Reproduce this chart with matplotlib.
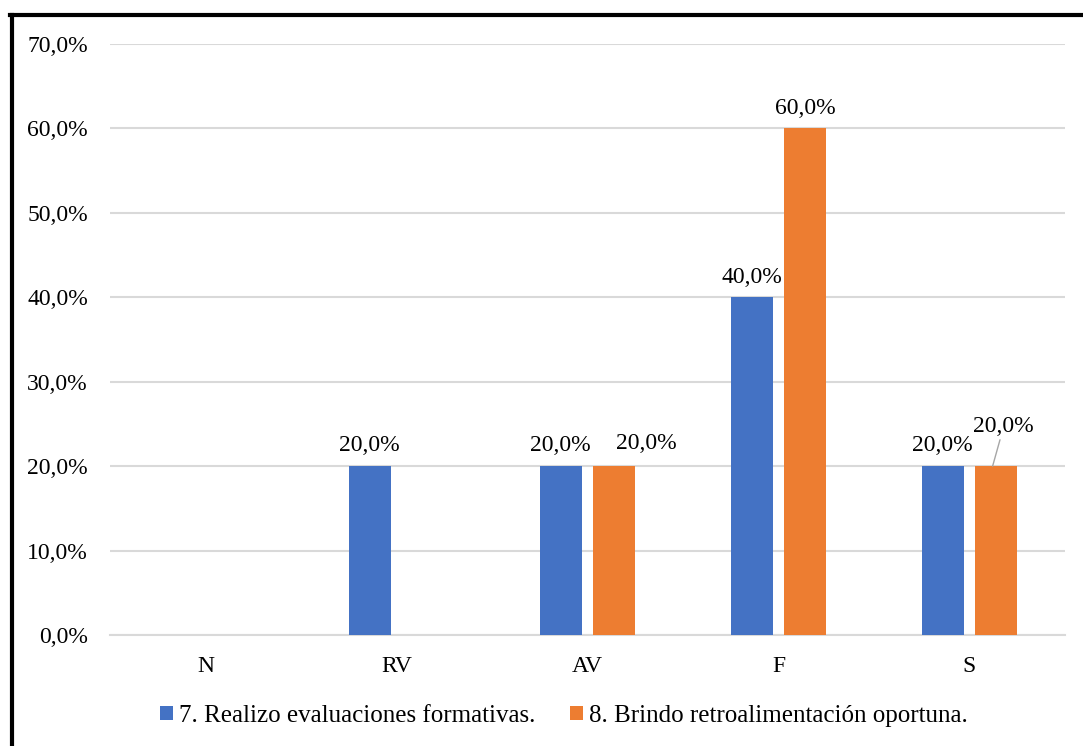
import numpy as np
import matplotlib
matplotlib.use("Agg")
import matplotlib.pyplot as plt
from matplotlib.lines import Line2D

categories = ["N", "RV", "AV", "F", "S"]
serie_7 = [0.0, 20.0, 20.0, 40.0, 20.0]
serie_8 = [0.0, 0.0, 20.0, 60.0, 20.0]
nombre_7 = "7. Realizo evaluaciones formativas."
nombre_8 = "8. Brindo retroalimentación oportuna."

plt.rcParams["font.family"] = ["Liberation Serif", "DejaVu Serif"]

fig = plt.figure(figsize=(10.83, 7.46), dpi=100)
ax = fig.add_axes([110 / 1083, 1 - 635 / 746, 955 / 1083, 591 / 746])

x = np.arange(len(categories))
ancho = 0.22
desp = 0.141
azul = "#4472C4"
naranja = "#ED7D31"
gris = "#D9D9D9"
tam = 17

b7 = ax.bar(x - desp, serie_7, ancho, color=azul, label=nombre_7, zorder=3)
b8 = ax.bar(x + desp, serie_8, ancho, color=naranja, label=nombre_8, zorder=3)

def etiqueta(v):
    return f"{v:.1f}".replace(".", ",") + "%"

# etiquetas de datos (solo valores distintos de cero)
for i, v in enumerate(serie_7):
    if v > 0:
        ax.annotate(etiqueta(v), (x[i] - desp, v), xytext=(0, 7),
                    textcoords="offset points", ha="center", va="bottom",
                    fontsize=tam)
for i, v in enumerate(serie_8):
    if v > 0:
        if categories[i] == "S":
            # etiqueta desplazada con línea guía
            ax.annotate(etiqueta(v), (x[i] + desp - 0.02, v), xytext=(8, 21),
                        textcoords="offset points", ha="center", va="bottom",
                        fontsize=tam,
                        arrowprops=dict(arrowstyle="-", color="#A6A6A6", lw=1,
                                        shrinkA=0, shrinkB=0))
        elif categories[i] == "AV":
            # movida a la derecha para no tapar la otra etiqueta
            ax.annotate(etiqueta(v), (x[i] + desp, v), xytext=(23, 9),
                        textcoords="offset points", ha="center", va="bottom",
                        fontsize=tam)
        else:
            ax.annotate(etiqueta(v), (x[i] + desp, v), xytext=(0, 7),
                        textcoords="offset points", ha="center", va="bottom",
                        fontsize=tam)

ax.set_xlim(-0.5, len(categories) - 0.5)
ax.set_ylim(0, 70)
ax.set_yticks(np.arange(0, 71, 10))
ax.set_yticklabels([etiqueta(t) for t in np.arange(0, 71, 10)], fontsize=tam)
ax.set_xticks(x)
ax.set_xticklabels(categories, fontsize=tam)
ax.tick_params(length=0)
ax.tick_params(axis="y", pad=16)
ax.tick_params(axis="x", pad=15)

ax.grid(axis="y", color=gris, lw=1.5, zorder=0)
for lado in ["top", "right", "left"]:
    ax.spines[lado].set_visible(False)
ax.spines["bottom"].set_color(gris)
ax.spines["bottom"].set_linewidth(1.5)

fig.legend(loc="center", bbox_to_anchor=(564 / 1083, 1 - 716 / 746), ncol=2,
           frameon=False, fontsize=18, handlelength=0.5, handleheight=0.5,
           handletextpad=0.25, columnspacing=1.4)

# marco (solo bordes superior e izquierdo visibles)
fig.add_artist(Line2D([11.5 / 1083, 11.5 / 1083], [0, 1 - 15 / 746],
                      color="black", lw=3, transform=fig.transFigure))
fig.add_artist(Line2D([10 / 1083, 1], [1 - 15 / 746, 1 - 15 / 746],
                      color="black", lw=3, transform=fig.transFigure))

fig.savefig("out.png", dpi=100)
